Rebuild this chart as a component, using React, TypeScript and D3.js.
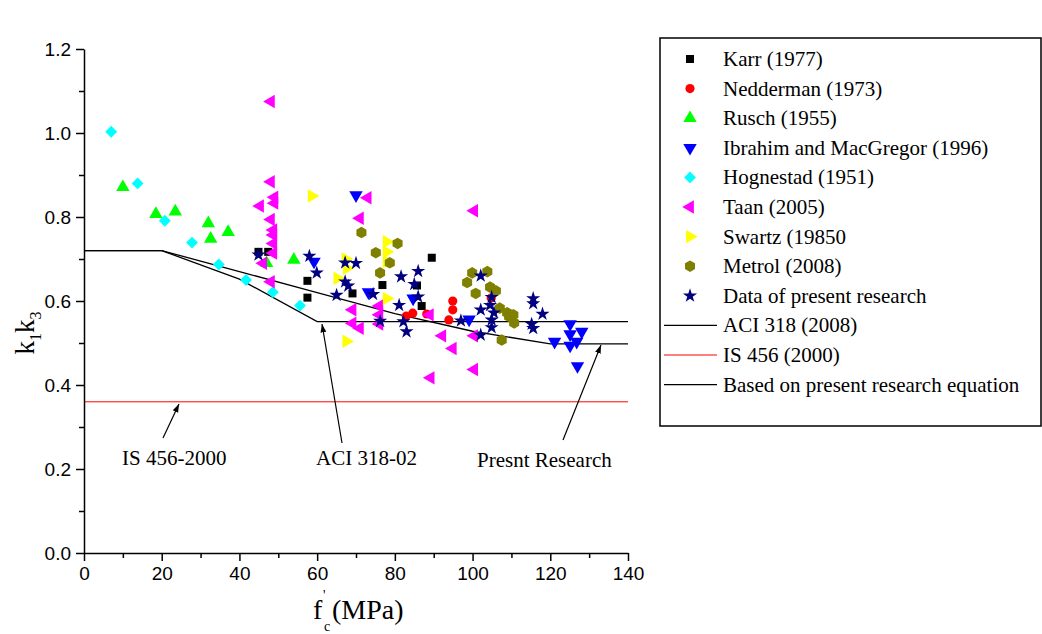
import React, { useEffect, useRef } from "react";
import * as d3 from "d3";

// ---------- data ----------
const karr: [number, number][] = [[44.9,0.717],[47.4,0.717],[57.5,0.648],[57.5,0.608],[69.1,0.618],[76.8,0.638],[85.7,0.637],[86.9,0.588],[89.5,0.703]];
const nedderman: [number, number][] = [[82.9,0.564],[84.6,0.571],[88.2,0.569],[93.9,0.555],[94.9,0.579],[94.9,0.6],[104.8,0.607]];
const rusch: [number, number][] = [[10.0,0.871],[18.5,0.807],[23.5,0.813],[32.0,0.785],[32.6,0.748],[37.1,0.764],[47.0,0.69],[54.0,0.698]];
const ibrahim: [number, number][] = [[59.2,0.694],[70,0.852],[73.2,0.621],[84.7,0.606],[99.1,0.556],[121.1,0.503],[125.1,0.545],[125.1,0.521],[125.1,0.494],[126.8,0.503],[128.1,0.527],[127,0.445]];
const hognestad: [number, number][] = [[7,1.003],[13.8,0.88],[20.8,0.791],[27.8,0.739],[34.7,0.687],[41.7,0.65],[48.6,0.621],[55.6,0.589]];
const taan: [number, number][] = [[48.1,1.075],[48.1,0.884],[49,0.847],[49,0.833],[45.3,0.826],[48.1,0.794],[48.7,0.769],[48.7,0.757],[48.7,0.737],[48.7,0.714],[46.1,0.69],[48.1,0.646],[73,0.846],[71,0.797],[69.1,0.579],[69.1,0.547],[71,0.535],[76,0.588],[76,0.567],[76,0.545],[89,0.567],[92.2,0.517],[94.9,0.487],[89.2,0.417],[100.4,0.815],[100.4,0.517],[100.4,0.437]];
const swartz: [number, number][] = [[58.6,0.85],[65.2,0.654],[67.3,0.7],[67.6,0.678],[67.5,0.504],[77.9,0.741],[77.9,0.717],[77.9,0.694],[77.9,0.606]];
const metrol: [number, number][] = [[71.4,0.763],[75.1,0.715],[76.2,0.667],[78.7,0.691],[80.7,0.737],[98.6,0.644],[99.9,0.667],[100.8,0.618],[103.8,0.67],[104.5,0.633],[106,0.624],[107,0.583],[108.9,0.572],[109.4,0.563],[110.5,0.567],[110.7,0.548],[107.5,0.507]];
const present: [number, number][] = [[44.9,0.71],[58,0.707],[59.9,0.667],[65,0.614],[67.2,0.691],[67.2,0.646],[68,0.636],[70,0.69],[74.4,0.616],[76.2,0.552],[81.1,0.59],[81.6,0.658],[82.2,0.551],[83,0.527],[85,0.64],[86,0.671],[86,0.61],[97,0.553],[102.1,0.66],[102.1,0.579],[102.1,0.519],[104.9,0.609],[104.5,0.59],[105.5,0.572],[104.9,0.555],[104.9,0.537],[115.6,0.606],[115.6,0.594],[118,0.569],[115.2,0.545],[115.6,0.535]];

const aciLine: [number, number][] = [[0,0.72],[20,0.72],[40,0.652],[60,0.551],[140,0.551]];
const isLine: [number, number][] = [[0,0.36],[140,0.36]];
const researchLine: [number, number][] = [[0,0.72],[20,0.72],[40,0.67],[60,0.62],[80,0.57],[100,0.528],[120,0.498],[140,0.498]];

const xTicks = [0,20,40,60,80,100,120,140];
const xMinor = [10,30,50,70,90,110,130];
const yTicks = [0,0.2,0.4,0.6,0.8,1.0,1.2];
const yMinor = [0.1,0.3,0.5,0.7,0.9,1.1];

const seriesNames = ["Karr (1977)","Nedderman (1973)","Rusch (1955)","Ibrahim and MacGregor (1996)","Hognestad (1951)","Taan (2005)","Swartz (19850","Metrol (2008)","Data of present research"];
const seriesColors = ["#000000","#ff0000","#00ff00","#0000ff","#00ffff","#ff00ff","#ffff00","#808000","#000080"];
const seriesShapes = ["square","circle","up","down","diamond","left","right","hex","star"];
const seriesData = [karr,nedderman,rusch,ibrahim,hognestad,taan,swartz,metrol,present];
const lineNames = ["ACI 318 (2008)","IS 456 (2000)","Based on present research equation"];
const lineColors = ["#000000","#ff0000","#000000"];

const X = d3.scaleLinear().domain([0,140]).range([84,628]);
const Y = d3.scaleLinear().domain([0,1.2]).range([553,49]);

const SERIF = "'Liberation Serif', 'Times New Roman', Times, serif";
const SANS = "'Liberation Sans', Arial, Helvetica, sans-serif";

function hexPath(r: number) {
  const pts = d3.range(6).map(i => {
    const a = Math.PI / 6 + i * Math.PI / 3;
    return [r * Math.cos(a), r * Math.sin(a)];
  });
  return "M" + pts.map(p => p.join(",")).join("L") + "Z";
}

function markerPath(shape: string): { d: string; rot: number } {
  switch (shape) {
    case "square": return { d: d3.symbol(d3.symbolSquare, 64)()!, rot: 0 };
    case "circle": return { d: d3.symbol(d3.symbolCircle, 66)()!, rot: 0 };
    case "up": return { d: d3.symbol(d3.symbolTriangle, 78)()!, rot: 0 };
    case "down": return { d: d3.symbol(d3.symbolTriangle, 78)()!, rot: 180 };
    case "left": return { d: d3.symbol(d3.symbolTriangle, 78)()!, rot: -90 };
    case "right": return { d: d3.symbol(d3.symbolTriangle, 78)()!, rot: 90 };
    case "diamond": return { d: d3.symbol(d3.symbolSquare, 70)()!, rot: 45 };
    case "hex": return { d: hexPath(5.8), rot: 0 };
    default: return { d: d3.symbol(d3.symbolStar, 62)()!, rot: 0 };
  }
}

const line = d3.line<[number, number]>().x(d => X(d[0])).y(d => Y(d[1]));

export default function App() {
  const xAxisRef = useRef<SVGGElement>(null);
  const yAxisRef = useRef<SVGGElement>(null);
  const xMinorRef = useRef<SVGGElement>(null);
  const yMinorRef = useRef<SVGGElement>(null);

  useEffect(() => {
    const xa = d3.select(xAxisRef.current!);
    xa.call(d3.axisBottom(X).tickValues(xTicks).tickSize(8).tickSizeOuter(0).tickPadding(6).tickFormat(d3.format("d")) as any);
    xa.attr("font-family", null).attr("font-size", null);
    xa.select(".domain").attr("stroke", "#000").attr("stroke-width", 1.5);
    xa.selectAll(".tick line").attr("stroke", "#000").attr("stroke-width", 1.5);
    xa.selectAll(".tick text").style("font-family", SANS).style("font-size", "19px").attr("fill", "#000").attr("dy", "0.71em");

    const xm = d3.select(xMinorRef.current!);
    xm.call(d3.axisBottom(X).tickValues(xMinor).tickSize(5).tickSizeOuter(0).tickFormat(() => "") as any);
    xm.select(".domain").remove();
    xm.selectAll(".tick line").attr("stroke", "#000").attr("stroke-width", 1.5);

    const ya = d3.select(yAxisRef.current!);
    ya.call(d3.axisLeft(Y).tickValues(yTicks).tickSize(8).tickSizeOuter(0).tickPadding(5).tickFormat(d3.format(".1f")) as any);
    ya.attr("font-family", null).attr("font-size", null);
    ya.select(".domain").attr("stroke", "#000").attr("stroke-width", 1.5);
    ya.selectAll(".tick line").attr("stroke", "#000").attr("stroke-width", 1.5);
    ya.selectAll(".tick text").style("font-family", SANS).style("font-size", "19px").attr("fill", "#000");

    const ym = d3.select(yMinorRef.current!);
    ym.call(d3.axisLeft(Y).tickValues(yMinor).tickSize(5).tickSizeOuter(0).tickFormat(() => "") as any);
    ym.select(".domain").remove();
    ym.selectAll(".tick line").attr("stroke", "#000").attr("stroke-width", 1.5);
  }, []);

  const serifStyle = { fontFamily: SERIF };
  const legendX = 690;
  const legendTextX = 723;
  const rowY = (i: number) => 59 + i * 29.6;

  return (
    <svg width={1042} height={634} style={{ position: "absolute", left: 0, top: 0, background: "#fff" }}>
      <rect x={0} y={0} width={1042} height={634} fill="#fff" />
      {/* reference lines */}
      <path d={line(isLine)!} fill="none" stroke="#ff0000" strokeWidth={1} />
      <path d={line(aciLine)!} fill="none" stroke="#000" strokeWidth={1.3} />
      <path d={line(researchLine)!} fill="none" stroke="#000" strokeWidth={1.3} />

      {/* scatter */}
      {seriesData.map((data, si) => {
        const m = markerPath(seriesShapes[si]);
        return (
          <g key={si}>
            {data.map((d, i) => (
              <path key={i} d={m.d} fill={seriesColors[si]} stroke="none"
                transform={`translate(${X(d[0])},${Y(d[1])}) rotate(${m.rot})`} />
            ))}
          </g>
        );
      })}

      {/* axes */}
      <g ref={xMinorRef} transform={`translate(0,${Y(0)})`} />
      <g ref={yMinorRef} transform={`translate(${X(0)},0)`} />
      <g ref={xAxisRef} transform={`translate(0,${Y(0)})`} />
      <g ref={yAxisRef} transform={`translate(${X(0)},0)`} />

      {/* axis titles */}
      <text transform="translate(34,333) rotate(-90)" style={serifStyle} fontSize={27} textAnchor="middle" fill="#000">
        k<tspan fontSize={16} dy={7}>1</tspan><tspan dy={-7}>k</tspan><tspan fontSize={16} dy={7}>3</tspan>
      </text>
      <text x={313} y={619} style={serifStyle} fontSize={28} fill="#000">f</text>
      <text x={323} y={600} style={serifStyle} fontSize={14} fill="#000">'</text>
      <text x={324} y={631} style={serifStyle} fontSize={14} fill="#000">c</text>
      <text x={332} y={619} style={serifStyle} fontSize={28} fill="#000">(MPa)</text>

      {/* annotations */}
      <defs>
        <marker id="arr" viewBox="0 0 10 10" refX={10} refY={5} markerWidth={7} markerHeight={7} orient="auto-start-reverse">
          <path d="M0,1.5 L10,5 L0,8.5 Z" fill="#000" />
        </marker>
      </defs>
      <line x1={163} y1={438} x2={179} y2={404} stroke="#000" strokeWidth={1.2} markerEnd="url(#arr)" />
      <text x={122} y={465} style={serifStyle} fontSize={21} fill="#000">IS 456-2000</text>
      <line x1={342} y1={443} x2={322} y2={324} stroke="#000" strokeWidth={1.2} markerEnd="url(#arr)" />
      <text x={316} y={465} style={serifStyle} fontSize={21} fill="#000">ACI 318-02</text>
      <line x1={563} y1={440} x2={601} y2={345} stroke="#000" strokeWidth={1.2} markerEnd="url(#arr)" />
      <text x={477} y={467} style={serifStyle} fontSize={21} fill="#000">Presnt Research</text>

      {/* legend */}
      <rect x={660} y={38} width={381} height={388} fill="none" stroke="#000" strokeWidth={1.5} />
      {seriesNames.map((name, i) => {
        const m = markerPath(seriesShapes[i]);
        return (
          <g key={name}>
            <path d={m.d} fill={seriesColors[i]} transform={`translate(${legendX},${rowY(i)}) rotate(${m.rot})`} />
            <text x={legendTextX} y={rowY(i) + 7} style={serifStyle} fontSize={21} fill="#000">{name}</text>
          </g>
        );
      })}
      {lineNames.map((name, j) => {
        const i = j + seriesNames.length;
        return (
          <g key={name}>
            <line x1={664} x2={717} y1={rowY(i)} y2={rowY(i)} stroke={lineColors[j]} strokeWidth={1.2} />
            <text x={legendTextX} y={rowY(i) + 7} style={serifStyle} fontSize={21} fill="#000">{name}</text>
          </g>
        );
      })}
    </svg>
  );
}
